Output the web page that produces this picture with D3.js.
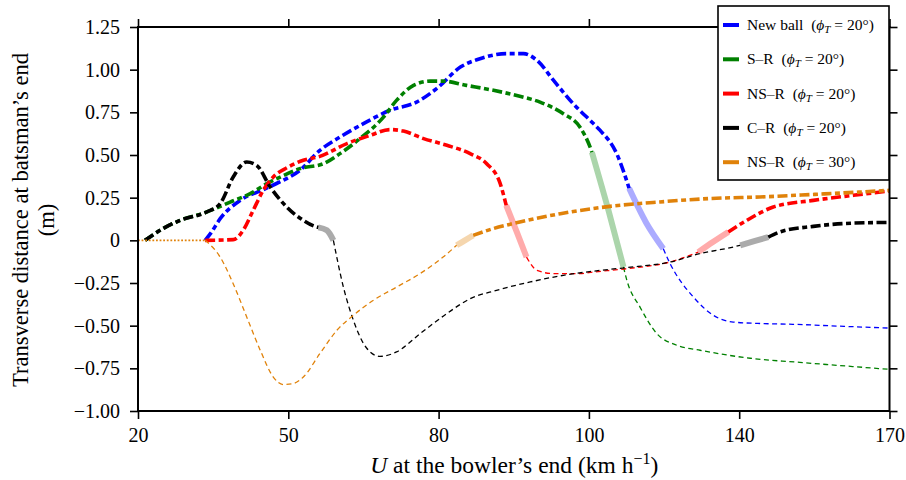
<!DOCTYPE html>
<html><head><meta charset="utf-8">
<script src="https://cdn.jsdelivr.net/npm/d3@7"></script>
<style>
body{margin:0;background:#fff}
svg{display:block}
text{font-family:"Liberation Serif","Times New Roman",serif;fill:#000}
</style>
</head><body>
<svg id="chart" width="906" height="480"></svg>
<script>
// Axis ticks
const xTickValues = [20, 50, 80, 100, 140, 170];
const yTickValues = [-1, -0.75, -0.5, -0.25, 0, 0.25, 0.5, 0.75, 1, 1.25];
const yTickLabels = ["\u22121.00", "\u22120.75", "\u22120.50", "\u22120.25", "0", "0.25", "0.50", "0.75", "1.00", "1.25"];

// New ball (phi_T = 20°): [U km/h, transverse distance m]
const newBallThick = [[33.4,0],[34.6,0.045],[36.4,0.127],[40.4,0.234],[45.0,0.297],[48.3,0.342],[52.3,0.410],[56.3,0.527],[60.3,0.605],[65.0,0.684],[70.3,0.762],[75.6,0.810],[79.6,0.889],[82.9,1.015],[85.5,1.064],[89.1,1.094],[91.3,1.094],[93.1,1.054],[95.3,0.937],[97.9,0.801],[101.2,0.684],[103.0,0.644],[107.4,0.508],[110.7,0.305]];
const newBallBlend = [[110.7,0.305],[115.2,0.105],[119.8,-0.049]];
const newBallThin  = [[119.8,-0.049],[121.6,-0.136],[127.8,-0.332],[133.1,-0.439],[138.4,-0.479],[145.0,-0.488],[150.7,-0.492],[160.0,-0.503],[170,-0.514]];

// S–R (phi_T = 20°)
const srThick = [[21.4,0],[25.0,0.069],[28.4,0.117],[33.7,0.166],[38.4,0.224],[42.4,0.274],[45.7,0.332],[48.4,0.371],[52.3,0.420],[57.0,0.449],[60.3,0.508],[64.3,0.596],[69.0,0.722],[71.6,0.820],[75.0,0.908],[78.3,0.933],[80.6,0.933],[83.7,0.908],[87.3,0.879],[90.8,0.844],[93.5,0.810],[96.6,0.742],[98.8,0.664],[100.3,0.547],[100.8,0.516]];
const srBlend = [[100.8,0.516],[105.2,0.176],[109.2,-0.156]];
const srThin  = [[109.2,-0.156],[110.1,-0.234],[113.6,-0.391],[118.1,-0.547],[123.4,-0.615],[129.6,-0.644],[142.2,-0.691],[152.1,-0.715],[170,-0.756]];

// NS–R (phi_T = 20°)
const nsrThick  = [[33.4,0],[39.0,0.004],[41.0,0.059],[43.0,0.176],[45.0,0.293],[47.0,0.371],[49.7,0.425],[53.0,0.469],[56.3,0.492],[61.7,0.567],[66.3,0.615],[70.3,0.649],[73.0,0.640],[77.0,0.596],[81.1,0.557],[84.2,0.508],[86.4,0.449],[88.2,0.332],[89.0,0.205]];
const nsrBlend  = [[89.0,0.205],[90.4,0.050],[91.7,-0.098]];
const nsrThin   = [[91.7,-0.098],[93.1,-0.176],[95.3,-0.195],[98.8,-0.195],[101.2,-0.186],[110.1,-0.166],[121.6,-0.127],[129.1,-0.069]];
const nsrBlend2 = [[129.1,-0.069],[133.0,-0.010],[137.1,0.049]];
const nsrThick2 = [[137.1,0.049],[141.5,0.117],[146.8,0.195],[154.8,0.234],[162.8,0.264],[170,0.289]];

// C–R (phi_T = 20°)
const crThick  = [[21.4,0],[25.0,0.069],[28.4,0.117],[33.7,0.166],[36.4,0.215],[39.0,0.371],[41.7,0.459],[43.7,0.439],[46.4,0.312],[49.7,0.195],[53.0,0.117],[55.7,0.078],[56.0,0.076]];
const crBlend  = [[56.0,0.076],[57.7,0.059],[59.0,0]];
const crThin   = [[59.0,0],[61.0,-0.274],[63.0,-0.469],[65.7,-0.634],[68.3,-0.680],[71.6,-0.654],[76.3,-0.547],[81.1,-0.429],[84.2,-0.342],[87.7,-0.293],[92.2,-0.244],[96.6,-0.205],[103.0,-0.176],[110.0,-0.160],[121.6,-0.127],[129.6,-0.078],[138.4,-0.039],[140.2,-0.029]];
const crBlend2 = [[140.2,-0.029],[143.0,-0.005],[145.8,0.019]];
const crThick2 = [[145.8,0.019],[148.1,0.049],[154.8,0.082],[162.8,0.101],[170,0.105]];

// NS–R (phi_T = 30°)
const nsr30Dotted = [[20,0],[33.4,0]];
const nsr30Thin   = [[33.4,0],[36.4,-0.098],[39.0,-0.254],[41.7,-0.449],[44.4,-0.644],[47.0,-0.801],[49.0,-0.845],[51.0,-0.839],[53.0,-0.801],[56.3,-0.664],[59.7,-0.527],[63.0,-0.439],[67.0,-0.351],[71.6,-0.274],[76.3,-0.195],[80.6,-0.098],[82.4,-0.029]];
const nsr30Blend  = [[82.4,-0.029],[83.5,0],[84.6,0.029]];
const nsr30Thick  = [[84.6,0.029],[87.3,0.069],[89.9,0.098],[96.2,0.156],[105.6,0.199],[118.9,0.225],[132.2,0.245],[144.1,0.254],[154.1,0.268],[164.1,0.283],[170,0.293]];

const seriesNames  = ["New ball", "S\u2013R", "NS\u2013R", "C\u2013R", "NS\u2013R"];
const seriesAngles = [20, 20, 20, 20, 30];
const seriesColors = ["#0000ff", "#008000", "#ff0000", "#000000", "#e0820a"];

const series = [
  {parts: [["thick", newBallThick], ["blend", newBallBlend], ["thin", newBallThin]]},
  {parts: [["thick", srThick], ["blend", srBlend], ["thin", srThin]]},
  {parts: [["thick", nsrThick], ["blend", nsrBlend], ["thin", nsrThin], ["blend", nsrBlend2], ["thick", nsrThick2]]},
  {parts: [["thick", crThick], ["blend", crBlend], ["thin", crThin], ["blend", crBlend2], ["thick", crThick2]]},
  {parts: [["dotted", nsr30Dotted], ["thin", nsr30Thin], ["blend", nsr30Blend], ["thick", nsr30Thick]]}
].map((s, i) => ({...s, name: seriesNames[i], angle: seriesAngles[i], color: seriesColors[i]}));

const styles = {
  thick:  {width: 3.6, dash: "10,3.5,5,3.5", opacity: 1},
  thin:   {width: 1.3, dash: "5,3.5", opacity: 1},
  blend:  {width: 6,   dash: null, opacity: 0.33},
  dotted: {width: 1.6, dash: "1.8,1.8", opacity: 1}
};

const W = 906, H = 480;
const margin = {left: 138, right: 16.5, top: 27, bottom: 69};
const pw = W - margin.left - margin.right;
const ph = H - margin.top - margin.bottom;

const svg = d3.select("#chart");
const g = svg.append("g").attr("transform", `translate(${margin.left},${margin.top})`);

// Tick values are equally spaced along the axis
const x = d3.scaleLinear()
  .domain(xTickValues)
  .range(xTickValues.map((d, i) => i * pw / (xTickValues.length - 1)));
const y = d3.scaleLinear().domain([-1, 1.25]).range([ph, 0]);

const line = d3.line().x(d => x(d[0])).y(d => y(d[1])).curve(d3.curveMonotoneX);

// Curves
series.forEach(s => {
  s.parts.forEach(([kind, data]) => {
    const st = styles[kind];
    g.append("path")
      .datum(data)
      .attr("d", line)
      .attr("fill", "none")
      .attr("stroke", s.color)
      .attr("stroke-opacity", st.opacity)
      .attr("stroke-width", st.width)
      .attr("stroke-dasharray", st.dash)
      .attr("stroke-linecap", "butt");
  });
});

// Axes (ticks outward on all four sides)
const tickLen = 8;
const fmtY = d => yTickLabels[yTickValues.indexOf(d)];
const axL = g.append("g").call(d3.axisLeft(y).tickValues(yTickValues).tickFormat(fmtY).tickSize(tickLen).tickPadding(10));
const axR = g.append("g").attr("transform", `translate(${pw},0)`).call(d3.axisRight(y).tickValues(yTickValues).tickFormat("").tickSize(tickLen));
const axB = g.append("g").attr("transform", `translate(0,${ph})`).call(d3.axisBottom(x).tickValues(xTickValues).tickFormat(d3.format("d")).tickSize(tickLen).tickPadding(9));
const axT = g.append("g").call(d3.axisTop(x).tickValues(xTickValues).tickFormat("").tickSize(tickLen));
[axL, axR, axB, axT].forEach(a => {
  a.select(".domain").remove();
  a.selectAll(".tick line").attr("stroke", "#000").attr("stroke-width", 1.6);
  a.selectAll(".tick text").style("font-family", '"Liberation Serif", serif').style("font-size", "20px").attr("fill", "#000");
});

g.append("rect")
  .attr("width", pw).attr("height", ph)
  .attr("fill", "none").attr("stroke", "#000").attr("stroke-width", 2);

// Axis titles
const xt = svg.append("text")
  .attr("x", margin.left + pw / 2 + 0.5).attr("y", 473)
  .attr("text-anchor", "middle").style("font-size", "23.5px");
xt.append("tspan").style("font-style", "italic").text("U");
xt.append("tspan").text(" at the bowler\u2019s end (km h");
xt.append("tspan").attr("dy", -9).style("font-size", "16px").text("\u22121");
xt.append("tspan").attr("dy", 9).text(")");

const yt = svg.append("g").attr("transform", `translate(0,${margin.top + ph / 2 + 1}) rotate(-90)`);
yt.append("text").attr("x", 0).attr("y", 28).attr("text-anchor", "middle").style("font-size", "22.6px")
  .text("Transverse distance at batsman\u2019s end");
yt.append("text").attr("x", 0).attr("y", 54).attr("text-anchor", "middle").style("font-size", "22.6px")
  .text("(m)");

// Legend
const lg = svg.append("g").attr("transform", "translate(718,6)");
lg.append("rect").attr("width", 171).attr("height", 174)
  .attr("fill", "#fff").attr("stroke", "#000").attr("stroke-width", 1.6);
series.forEach((s, i) => {
  const cy = 19 + i * 34.3;
  lg.append("line").attr("x1", 5).attr("x2", 21).attr("y1", cy).attr("y2", cy)
    .attr("stroke", s.color).attr("stroke-width", 4);
  const t = lg.append("text").attr("x", 29).attr("y", cy + 5).style("font-size", "15.5px");
  t.append("tspan").text(s.name + "\u2002(");
  t.append("tspan").style("font-style", "italic").text("\u03d5");
  t.append("tspan").style("font-style", "italic").style("font-size", "11px").attr("dy", 3).text("T");
  t.append("tspan").attr("dy", -3).text(" = " + s.angle + "\u00b0)");
});
</script>
</body></html>
